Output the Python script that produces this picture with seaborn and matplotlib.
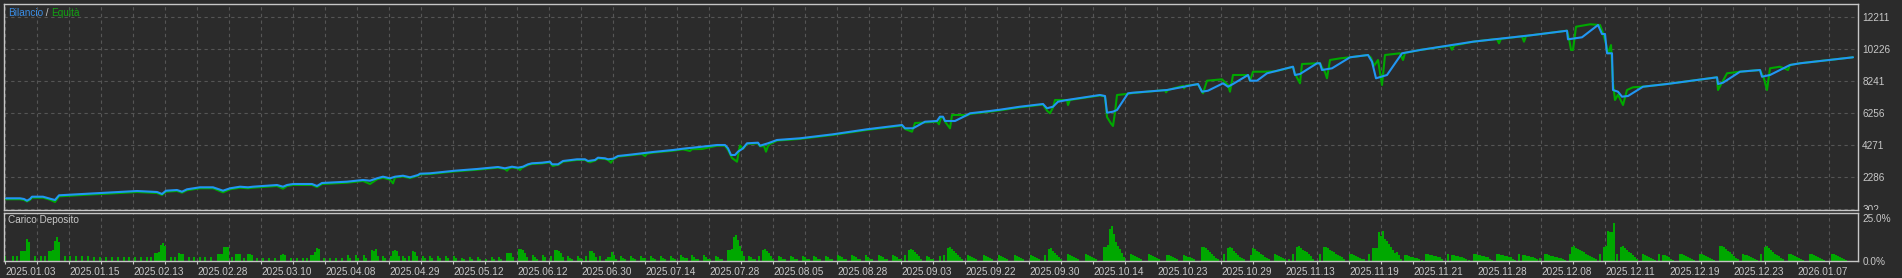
import numpy as np
import pandas as pd
import matplotlib
matplotlib.use("Agg")
import matplotlib.pyplot as plt
import seaborn as sns
from matplotlib.transforms import Bbox, TransformedBbox

# ---------------- data ----------------
dates = ["2025.01.03", "2025.01.15", "2025.02.13", "2025.02.28", "2025.03.10", "2025.04.08",
         "2025.04.29", "2025.05.12", "2025.06.12", "2025.06.30", "2025.07.14", "2025.07.28",
         "2025.08.05", "2025.08.28", "2025.09.03", "2025.09.22", "2025.09.30", "2025.10.14",
         "2025.10.23", "2025.10.29", "2025.11.13", "2025.11.19", "2025.11.21", "2025.11.28",
         "2025.12.08", "2025.12.11", "2025.12.19", "2025.12.23", "2026.01.07"]

ytick_vals = [302, 2286, 4271, 6256, 8241, 10226, 12211]
load_ticks = [0, 25]
load_tick_labels = ["0.0%", "25.0%"]

bal_x = [2, 16, 20, 23, 26, 28, 39, 46, 51, 55, 73, 91, 103, 121, 133, 153, 158, 162, 173, 178,
         183, 196, 209, 219, 226, 236, 244, 249, 273, 279, 283, 289, 308, 313, 318, 343, 359, 366,
         373, 379, 386, 391, 399, 406, 414, 416, 426, 441, 451, 473, 483, 494, 501, 508, 514, 519,
         524, 528, 538, 546, 548, 554, 559, 573, 581, 584, 591, 594, 601, 604, 609, 614, 626, 638,
         649, 669, 679, 698, 713, 721, 724, 727, 731, 734, 739, 743, 754, 756, 764, 773, 796, 829,
         863, 898, 901, 909, 921, 933, 936, 939, 941, 951, 963, 966, 986, 996, 1016,
         1039, 1043, 1049, 1054, 1063, 1096, 1101, 1103, 1109, 1113, 1124,
         1129, 1163, 1194, 1198, 1204, 1219, 1224, 1229, 1244, 1246, 1253, 1263, 1289, 1291, 1296,
         1313, 1316, 1318, 1328, 1346, 1364, 1368, 1372, 1383, 1398, 1416, 1469, 1529, 1563, 1564,
         1571, 1578, 1594, 1598, 1601, 1603, 1608, 1609, 1614, 1618, 1624, 1639, 1663, 1713, 1714,
         1719, 1736, 1756, 1758, 1766, 1786, 1796, 1849]
bal_v = [938, 938, 895, 788, 895, 1038, 1038, 913, 832, 1125, 1187, 1250, 1287, 1349, 1393, 1331,
         1206, 1412, 1455, 1349, 1499, 1624, 1624, 1412, 1561, 1661, 1624, 1661, 1767, 1661, 1767,
         1829, 1829, 1705, 1892, 1973, 2079, 2035, 2185, 2285, 2184, 2284, 2346, 2247, 2390, 2471,
         2496, 2596, 2658, 2764, 2826, 2889, 2808, 2908, 2845, 2908, 3057, 3120, 3157, 3219, 3057,
         3057, 3263, 3369, 3369, 3263, 3325, 3469, 3431, 3369, 3406, 3574, 3655, 3743, 3824, 3948,
         4030, 4154, 4260, 4260, 4054, 3637, 3637, 3843, 4054, 4366, 4404, 4216, 4366, 4572, 4678,
         4927, 5239, 5507, 5301, 5301, 5712, 5756, 6024, 6024, 5756, 5756, 6130, 6236, 6379, 6460,
         6647,
         6816, 6548, 6647, 6959, 7065, 7377, 7314, 6273, 6336, 6442, 7483, 7520, 7688, 8062, 7582,
         7645, 8106, 7894, 8062, 8623, 8268, 8268, 8729, 9141, 8623, 8686, 9353, 9353, 8935, 9041,
         9727, 9870, 9452, 8418, 8623, 9976, 10182, 10699, 11116, 11384, 10848, 10911, 10973, 11740,
         11179, 11179, 9976, 9976, 7688, 7582, 7271, 7314, 7894, 8062, 8480, 8062, 8144, 8829, 8935,
         8517, 8623, 9247, 9353, 9727]

eq_x = [2, 16, 20, 23, 26, 28, 39, 46, 51, 55, 73, 91, 103, 121, 133, 153, 158, 162, 173, 178,
        183, 196, 209, 219, 226, 236, 244, 249, 273, 279, 283, 289, 308, 313, 318, 343, 359, 366,
        373, 379, 386, 389, 391, 399, 406, 414, 416, 426, 441, 451, 473, 483, 494, 501, 503, 505,
        508, 514, 516, 518, 519, 524, 528, 538, 546, 548, 549, 552, 554, 559, 573, 581, 584, 586,
        589, 591, 594, 601, 604, 607, 609, 614, 626, 638, 641, 643, 649, 669, 679, 686, 688, 698,
        713, 721, 724, 728, 733, 735, 736, 739, 743, 754, 756, 760, 762, 764, 766, 773, 796, 829,
        863, 898, 901, 908, 911, 921, 933, 935, 937, 939, 941, 946, 948, 959, 963, 966, 986, 996,
        1016, 1039, 1043,
        1046, 1049, 1051, 1063, 1064, 1066, 1096, 1101, 1103, 1107, 1109, 1111, 1113, 1124, 1129,
        1161, 1162, 1164, 1179, 1180, 1182, 1194, 1197, 1199, 1203, 1218, 1224, 1226, 1229, 1244,
        1246, 1249, 1261, 1272, 1289, 1291, 1296, 1298, 1313, 1316, 1318, 1321, 1323, 1326, 1336,
        1346, 1364, 1367, 1370, 1374, 1378, 1381, 1396, 1399, 1401, 1416, 1446, 1448, 1450, 1469,
        1493, 1495, 1497, 1518, 1520, 1522, 1529, 1563, 1565, 1567, 1569, 1572, 1586, 1596, 1599,
        1602, 1604, 1607, 1609, 1611, 1614, 1619, 1623, 1629, 1639, 1663, 1713, 1714, 1723, 1736,
        1756, 1760, 1763, 1766, 1776, 1784, 1786, 1796, 1849]
eq_v = [880, 880, 840, 740, 840, 980, 980, 850, 710, 1060, 1125, 1190, 1225, 1290, 1330, 1270,
        1150, 1350, 1395, 1290, 1440, 1565, 1565, 1310, 1500, 1600, 1565, 1600, 1705, 1540, 1705,
        1770, 1770, 1640, 1830, 1910, 2020, 1830, 2125, 2225, 2100, 1871, 2240, 2300, 2200, 2350,
        2430, 2455, 2555, 2615, 2720, 2785, 2850, 2760, 2658, 2800, 2865, 2800, 2702, 2850, 2865,
        3015, 3080, 3115, 3180, 3000, 2951, 3010, 3015, 3220, 3330, 3330, 3220, 3182, 3250, 3285,
        3430, 3390, 3330, 3157, 3360, 3535, 3615, 3700, 3574, 3720, 3785, 3905, 3990, 3886, 4000,
        4011, 4220, 4220, 3948, 3450, 3219, 3948, 4229, 4020, 4330, 4365, 4180, 4198, 3843, 4200,
        4322, 4535, 4640, 4890, 5200, 5470, 5260, 5090, 5631, 5662, 5720, 5550, 5980, 5990, 5720,
        5301, 6130, 6130, 6100, 6200, 6340, 6420, 6610, 6780, 6400,
        6236, 6600, 7065, 7065, 6753, 7065, 7350, 7280, 6000, 5600, 5444, 6300, 7377, 7450, 7500,
        7680, 7545, 7690, 7950, 7794, 7960, 8040, 7700, 7483, 8268, 8355, 8000, 7582, 8623, 8623,
        8268, 8829, 8829, 8860, 9130, 8700, 8106, 9309, 9353, 9353, 9100, 8800, 8418, 9558, 9660,
        9727, 9870, 9700, 9200, 9558, 7999, 9870, 9976, 9558, 10000, 10182, 10450, 10200, 10460,
        10699, 10870, 10600, 10880, 11030, 10700, 11050, 11116, 11384, 10900, 10182, 10182, 11632,
        11783, 11740, 11240, 10570, 9976, 10490, 8124, 7065, 7400, 6753, 7688, 7857, 7894, 8062,
        8480, 7688, 8729, 8829, 8935, 8400, 7688, 9041, 9141, 8935, 9247, 9353, 9727]

load_x = [1, 9, 13, 17, 19, 21, 23, 25, 31, 37, 41, 45, 47, 49, 51, 53, 55, 61, 66, 72, 78, 84, 90,
          96, 102, 108, 114, 120, 125, 131, 137, 143, 147, 151, 153, 155, 157, 159, 161, 167, 171,
          175, 177, 179, 185, 190, 196, 201, 207, 214, 216, 218, 220, 222, 224, 228, 232, 234, 236,
          240, 244, 246, 248, 253, 259, 265, 271, 277, 279, 281, 287, 293, 299, 303, 307, 309, 311,
          313, 315, 320, 326, 332, 338, 344, 346, 352, 354, 360, 362, 368, 370, 372, 374, 379, 381,
          387, 389, 391, 393, 395, 399, 401, 405, 409, 411, 413, 419, 421, 426, 428, 434, 436, 442,
          444, 450, 452, 458, 460,
          466, 468, 474, 476, 482, 488, 490, 495, 497, 503, 505, 507, 509, 515, 517, 519, 521, 523,
          529, 531, 533, 539, 541, 547, 551, 553, 555, 557, 559, 564, 566, 568, 574, 576, 578, 582,
          586, 588, 590, 592, 596, 602, 604, 606, 608, 610, 612, 617, 619, 621, 627, 629, 631, 637,
          639, 641, 647, 649, 651, 657, 659, 661, 667, 669, 671, 677, 679, 681, 683, 688, 690, 692,
          694, 700, 702, 704, 706, 712, 714, 716, 718, 724, 726, 728, 730, 732, 734, 736, 738, 740,
          745, 747, 749, 751, 755, 759, 761, 763, 765, 767, 769, 775, 777, 779, 781, 787, 789, 791,
          793, 799, 801, 803, 805, 810, 812, 814, 816, 822, 824, 826, 828, 834, 836, 838, 840, 842,
          848, 850, 852, 854, 856, 862, 864, 866, 868, 875, 877, 879, 881, 883, 889, 891, 893, 895,
          897, 901, 905, 907, 909, 911, 913, 915, 917, 923, 925, 927,
          929, 936, 940, 944, 946, 948, 950, 952, 954, 956, 958, 964, 966, 968, 970, 972, 980, 982,
          984, 986, 988, 995, 997, 999, 1001, 1003, 1011, 1013, 1015, 1017, 1019, 1027, 1029, 1031,
          1033, 1035, 1041, 1045, 1047, 1049, 1051, 1053, 1055, 1057, 1064, 1066, 1068, 1070, 1072,
          1074, 1082, 1084, 1086, 1088, 1090, 1092, 1100, 1102, 1104, 1106, 1108, 1110, 1112, 1114,
          1116, 1118, 1120, 1127, 1129, 1131, 1133, 1135, 1137, 1145, 1147, 1149, 1151, 1153, 1155,
          1163, 1165, 1167, 1169, 1171, 1173, 1180, 1182, 1184, 1186, 1188, 1190, 1198, 1200, 1202,
          1204, 1206, 1208, 1210, 1212, 1214, 1220, 1224, 1226, 1228, 1230, 1232, 1234, 1236, 1238,
          1240, 1247, 1249, 1251, 1253, 1255, 1257, 1259, 1261, 1263, 1265, 1271, 1273, 1275, 1277,
          1279, 1281, 1285, 1289, 1293, 1295, 1297, 1299, 1301, 1303, 1305, 1307, 1309, 1316, 1320,
          1322, 1324, 1326, 1328, 1330, 1332, 1334, 1336, 1338, 1340, 1346, 1348, 1350, 1352, 1354,
          1356, 1358, 1360, 1365, 1369, 1371, 1373, 1375, 1377, 1379, 1381, 1383, 1385, 1387, 1389,
          1391,
          1393, 1395, 1397, 1401, 1403, 1405, 1407, 1409, 1411, 1413, 1415, 1418, 1422, 1424, 1426,
          1428, 1430, 1432, 1434, 1436, 1438, 1444, 1448, 1450, 1452, 1454, 1456, 1458, 1460, 1462,
          1465, 1470, 1472, 1474, 1476, 1478, 1480, 1482, 1484, 1486, 1488, 1493, 1495, 1497, 1499,
          1501, 1503, 1505, 1507, 1509, 1511, 1515, 1519, 1521, 1523, 1525, 1527, 1529, 1531, 1533,
          1536, 1541, 1543, 1545, 1547, 1549, 1551, 1553, 1555, 1557, 1559, 1561, 1566, 1568, 1570,
          1572, 1574, 1576, 1578, 1580, 1582, 1584, 1586, 1588, 1590, 1592, 1596, 1600, 1602, 1604,
          1606, 1608, 1610, 1613, 1617, 1619, 1621, 1623, 1625, 1627, 1629, 1631, 1633, 1639, 1641,
          1643, 1645, 1647, 1649, 1651, 1655, 1659, 1661, 1663, 1665, 1667, 1669, 1676, 1678, 1680,
          1682, 1684, 1686, 1688, 1690, 1696, 1698, 1700, 1702, 1704, 1706, 1708, 1710, 1716, 1718,
          1720, 1722, 1724, 1726, 1728, 1730, 1732, 1734, 1739, 1741, 1743, 1745, 1747, 1749, 1751,
          1753, 1757, 1761, 1763, 1765, 1767, 1769, 1771, 1773, 1775, 1777, 1779, 1785, 1787, 1789,
          1791, 1793, 1795, 1797, 1799, 1806, 1808, 1810, 1812, 1814, 1816, 1818, 1820, 1828, 1830,
          1832, 1834, 1836, 1838, 1840, 1842]
load_pct = [2.7, 2.7, 2.7, 5.6, 5.6, 5.6, 12.6, 11.1, 2.7, 2.7, 2.7, 5.6, 5.6, 6.2, 11.7, 13.8, 10.9,
            2.7, 2.7, 2.7, 2.7, 2.7, 2.1, 2.1, 2.1, 2.1, 2.1, 2.1, 2.1, 2.1, 2.1, 2.1, 2.1, 4.5, 4.5,
            5.1, 9.5, 10.3, 8.9, 2.1, 2.1, 4.5, 4.1, 4.1, 2.1, 2.1, 2.1, 2.1, 2.1, 3.9, 3.9, 3.9, 8.0,
            8.4, 8.4, 2.1, 3.9, 3.9, 3.9, 1.6, 3.9, 3.9, 3.5, 1.6, 1.6, 1.6, 1.6, 3.3, 3.9, 3.3, 1.6,
            1.6, 1.6, 1.6, 3.3, 3.3, 5.1, 7.4, 7.0, 1.6, 1.6, 1.6, 1.6, 3.3, 1.6, 3.3, 1.6, 3.3, 1.6,
            6.2, 5.6, 7.0, 2.7, 2.7, 1.6, 2.7, 5.6, 6.2, 5.6, 2.7, 2.7, 1.6, 2.7, 5.6, 5.1, 2.7, 2.7,
            1.6, 2.7, 1.6, 2.7, 1.6, 2.7, 1.6, 2.7, 1.6, 1.6, 1.0,
            2.1, 1.0, 2.1, 1.0, 1.0, 2.1, 1.0, 2.1, 1.0, 4.5, 4.5, 4.5, 2.1, 6.8, 6.8, 6.2, 4.5, 2.1,
            3.3, 2.1, 1.0, 3.3, 2.1, 2.7, 6.2, 6.2, 5.6, 4.5, 2.1, 2.7, 1.6, 1.0, 2.7, 1.6, 1.0, 2.7,
            5.6, 5.6, 4.5, 2.1, 2.7, 1.0, 2.1, 2.1, 5.1, 3.3, 1.0, 2.7, 1.6, 1.0, 2.7, 1.6, 1.0, 2.7,
            1.6, 1.6, 2.7, 1.6, 1.0, 2.7, 1.6, 1.0, 2.7, 1.6, 1.0, 3.3, 2.1, 1.6, 1.6, 3.3, 2.1, 1.0,
            1.0, 3.3, 2.1, 1.0, 1.0, 2.7, 2.1, 1.0, 1.0, 6.2, 6.2, 6.8, 13.8, 15.0, 12.1, 8.6, 5.6, 2.7,
            2.7, 2.1, 1.0, 1.0, 2.7, 6.2, 6.8, 5.6, 4.5, 2.7, 1.0, 2.7, 2.1, 1.0, 1.0, 2.7, 2.1, 1.0,
            1.0, 2.7, 2.1, 1.0, 1.0, 2.7, 2.1, 1.0, 1.0, 2.7, 2.1, 1.0, 1.0, 3.3, 2.7, 2.1, 1.0, 1.0,
            3.3, 2.7, 2.1, 1.0, 1.0, 3.3, 2.1, 1.0, 1.0, 3.3, 2.7, 2.1, 1.0, 1.0, 3.3, 2.7, 2.1, 1.0,
            1.0, 3.3, 6.2, 6.8, 6.2, 5.1, 3.9, 2.7, 1.0, 2.7, 2.1, 1.0,
            1.0, 2.7, 3.3, 7.4, 8.0, 6.8, 5.6, 4.5, 3.3, 2.1, 1.0, 3.3, 2.7, 2.1, 1.6, 1.0, 3.3, 2.7,
            2.1, 1.6, 1.0, 3.3, 2.7, 2.1, 1.6, 1.0, 3.3, 2.7, 2.1, 1.6, 1.0, 3.3, 2.7, 2.1, 1.6, 1.0,
            3.3, 6.8, 7.4, 5.6, 4.5, 3.3, 2.1, 1.0, 3.9, 3.3, 2.7, 2.1, 1.6, 1.0, 3.9, 3.3, 2.7, 2.1,
            1.6, 1.0, 8.0, 8.0, 9.1, 18.5, 20.2, 15.6, 10.9, 8.6, 6.8, 4.5, 2.1, 3.9, 3.3, 2.7, 2.1,
            1.6, 1.0, 3.9, 3.3, 2.7, 2.1, 1.6, 1.0, 3.3, 3.3, 2.7, 2.1, 1.6, 1.0, 3.3, 2.7, 2.1, 2.1,
            1.6, 1.0, 8.0, 8.0, 7.4, 6.2, 5.1, 3.9, 2.7, 1.6, 1.0, 3.9, 7.4, 8.0, 7.4, 5.6, 4.5, 3.3,
            2.1, 1.6, 1.0, 3.3, 7.4, 6.8, 5.6, 5.1, 3.9, 3.3, 2.1, 1.6, 1.0, 3.9, 3.3, 2.7, 2.1, 1.6,
            1.0, 1.0, 3.9, 8.0, 8.6, 7.4, 6.2, 5.6, 5.1, 3.9, 2.7, 1.0, 3.9, 8.0, 8.0, 7.4, 6.2, 5.6,
            5.1, 3.9, 3.3, 2.7, 2.1, 1.0, 3.9, 3.9, 3.3, 2.7, 2.1, 1.6, 1.0, 1.0, 3.9, 7.4, 7.4, 7.4,
            16.7, 14.4, 17.3, 12.6, 11.5, 9.7, 8.0, 6.2, 4.5,
            5.1, 3.3, 1.0, 3.3, 3.3, 2.7, 2.1, 2.1, 1.6, 1.6, 1.0, 0.4, 3.9, 3.9, 3.3, 3.3, 2.7, 2.7,
            2.1, 2.1, 1.0, 3.9, 3.3, 3.3, 2.7, 2.7, 2.1, 2.1, 1.6, 1.0, 0.4, 3.9, 3.9, 3.3, 3.3, 2.7,
            2.7, 2.1, 2.1, 1.0, 0.4, 3.9, 3.9, 3.3, 3.3, 2.7, 2.7, 2.1, 2.1, 1.0, 0.4, 3.9, 3.3, 3.3,
            2.7, 2.7, 2.1, 2.1, 1.6, 1.0, 1.6, 3.9, 3.9, 3.3, 2.7, 2.7, 2.1, 2.1, 1.6, 1.6, 1.0, 0.4,
            3.9, 8.0, 8.6, 7.4, 6.8, 6.2, 5.6, 5.1, 3.9, 3.3, 2.7, 2.1, 1.6, 1.0, 3.9, 8.0, 8.6, 17.3,
            16.7, 16.7, 22.0, 3.9, 8.0, 8.6, 7.4, 6.2, 5.1, 4.5, 3.3, 2.1, 1.0, 3.9, 3.3, 2.7, 2.1,
            1.6, 1.0, 0.4, 3.9, 3.3, 3.3, 2.7, 2.1, 1.0, 0.4, 3.9, 3.9, 3.3, 2.7, 2.1, 1.6, 1.0, 0.4,
            3.9, 3.9, 3.3, 2.7, 2.1, 1.6, 1.0, 0.4, 8.6, 8.6, 8.0, 6.8, 5.6, 5.1, 3.9, 2.7, 1.6, 1.0,
            3.9, 3.3, 3.3, 2.7, 2.1, 1.6, 1.0, 0.4, 3.9, 8.0, 8.6, 7.4, 6.2, 5.1, 3.9, 3.3, 2.7, 1.6,
            1.0, 3.9, 3.9, 3.3, 2.7, 2.1, 1.6, 1.0, 0.4, 3.9, 3.9, 3.3, 2.7, 2.1, 1.6, 1.0, 0.4, 3.9,
            3.9, 3.3, 2.7, 2.1, 1.6, 1.0, 0.4]

# ---------------- style ----------------
BG = "#2b2b2b"
FRAME = "#c6c6c6"
GRID = "#555555"
TXT = "#c8c8c8"
BLUE = "#2196f3"
GREEN = "#00a800"

sns.set_theme(style="dark", rc={"axes.facecolor": BG, "figure.facecolor": BG})
plt.rcParams["font.family"] = ["Liberation Sans Narrow", "Liberation Sans", "DejaVu Sans"]

print(len(bal_x), len(bal_v), len(eq_x), len(eq_v), len(load_x), len(load_pct))
n = min(len(load_x), len(load_pct))
bal = pd.DataFrame({"x": bal_x, "v": bal_v})
eq = pd.DataFrame({"x": eq_x, "v": eq_v})
load = pd.DataFrame({"x": load_x[:n], "pct": load_pct[:n]})

W, H = 1902, 278
fig = plt.figure(figsize=(W / 100, H / 100), dpi=100, facecolor=BG)
ax = fig.add_axes([4 / W, 1 - 210 / H, 1854 / W, (210 - 4.3) / H])
ax2 = fig.add_axes([4 / W, 1 - 261 / H, 1854 / W, 48 / H])

XMAX = 1854
grid_pos = list(range(1, XMAX, 32))
label_pos = [1 + 64 * i for i in range(len(dates))]
minor_pos = [p for p in grid_pos if p not in label_pos]

# main panel
sns.lineplot(data=eq, x="x", y="v", ax=ax, color=GREEN, lw=1.5, estimator=None, sort=False)
sns.lineplot(data=bal, x="x", y="v", ax=ax, color=BLUE, lw=1.5, estimator=None, sort=False)

# deposit load panel
sns.barplot(data=load, x="x", y="pct", ax=ax2, native_scale=True, width=1.0,
            color=GREEN, saturation=1, errorbar=None, linewidth=0)

for a in (ax, ax2):
    a.set_facecolor(BG)
    for s in a.spines.values():
        s.set_color(FRAME)
        s.set_linewidth(1.0)
        s.set_visible(True)
    a.set_xlim(0, XMAX)
    a.set_xlabel("")
    a.set_ylabel("")

ax.set_ylim(209, 13030)
ax.set_xticks(grid_pos)
ax.set_xticklabels([])
ax.set_yticks(ytick_vals)
ax.set_yticklabels([str(v) for v in ytick_vals])
ax.yaxis.tick_right()
ax.tick_params(axis="x", length=0)
ax.tick_params(axis="y", length=0, pad=3, colors=TXT, labelsize=7.2)
ax.grid(True, color=GRID, ls=(0, (3, 3)), lw=0.8)
clip = TransformedBbox(Bbox([[0, 1 - 210 / H], [1, 1]]), fig.transFigure)
for t in ax.get_yticklabels():
    t.set_clip_box(clip)
    t.set_clip_on(True)

ax2.set_ylim(0, 27.9)
ax2.set_yticks(load_ticks)
ax2.set_yticklabels(load_tick_labels)
ax2.yaxis.tick_right()
ax2.set_xticks(label_pos)
ax2.set_xticklabels(dates, ha="left")
ax2.set_xticks(minor_pos, minor=True)
ax2.tick_params(axis="x", which="both", length=2.5, width=0.8, pad=1.5,
                colors=TXT, labelsize=7.2, bottom=True)
ax2.tick_params(axis="x", which="both", color=FRAME)
ax2.tick_params(axis="y", length=0, pad=3, colors=TXT, labelsize=7.2)
ax2.grid(True, axis="x", which="both", color=GRID, ls=(0, (3, 3)), lw=0.8)
ax2.grid(False, axis="y")
ax2.set_axisbelow(True)

fig.text(8 / W, 1 - 220 / H, "Carico Deposito", color=TXT, fontsize=7.2, ha="left", va="center")
t1 = fig.text(8 / W, 1 - 12.7 / H, "Bilancio", color="#3a8ee6", fontsize=7.2, ha="left", va="center")
t2 = ax.annotate(" / ", xy=(1, 0), xycoords=t1, color=TXT, fontsize=7.2, ha="left", va="bottom")
ax.annotate("Equità", xy=(1, 0), xycoords=t2, color="#13a313", fontsize=7.2, ha="left", va="bottom")

fig.savefig("out.png", dpi=100, facecolor=BG)
